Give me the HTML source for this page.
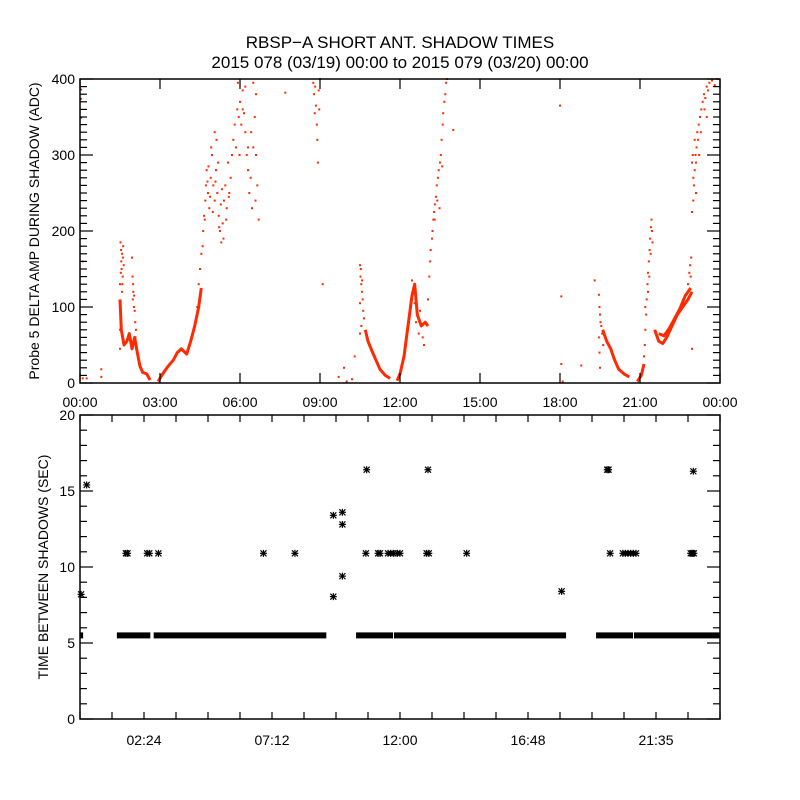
<!DOCTYPE html>
<html><head><meta charset="utf-8"><style>
html,body{margin:0;padding:0;background:#fff;}
svg{display:block;font-family:"Liberation Sans","DejaVu Sans",sans-serif;}
</style></head><body>
<svg id="chart" width="800" height="800" viewBox="0 0 800 800" xmlns="http://www.w3.org/2000/svg">
<defs><clipPath id="botClip"><rect x="80" y="415" width="640" height="304"/></clipPath></defs>
<rect width="800" height="800" fill="#fff"/>
<text x="400" y="48" font-size="17" text-anchor="middle">RBSP−A SHORT ANT. SHADOW TIMES</text>
<text x="400" y="68" font-size="17" text-anchor="middle">2015 078 (03/19) 00:00 to 2015 079 (03/20) 00:00</text>
<g id="topPanel"></g>
<g id="botPanel"></g>
<text transform="translate(39,231) rotate(-90)" font-size="14" text-anchor="middle">Probe 5 DELTA AMP DURING SHADOW (ADC)</text>
<text transform="translate(48,567) rotate(-90)" font-size="14" text-anchor="middle">TIME BETWEEN SHADOWS (SEC)</text>
</svg>
<script>
// ---------- top panel data (hour, ADC) ----------
const curveB = [[1.5,110],[1.55,70],[1.65,50],[1.76,55],[1.85,65],[1.95,45],[2.05,60],[2.15,40],[2.25,22],[2.35,14],[2.5,12],[2.63,4]];
const curveC = [[2.93,2],[3.1,12],[3.3,22],[3.5,30],[3.65,40],[3.8,45],[4.0,38],[4.15,55],[4.3,75],[4.45,100],[4.55,125]];
const curveE = [[10.7,70],[10.8,55],[10.95,42],[11.1,30],[11.25,18],[11.45,10],[11.63,6]];
const curveF = [[11.89,3],[12.0,12],[12.15,35],[12.3,75],[12.45,115],[12.55,130],[12.65,90],[12.8,75],[12.95,80],[13.05,75]];
const curveG = [[19.6,70],[19.75,55],[19.9,45],[20.05,30],[20.2,18],[20.4,12],[20.6,8]];
const curveH = [[20.9,2],[21.05,10],[21.15,25]];
const curveH2 = [[21.55,70],[21.7,55],[21.85,52],[22.0,60],[22.2,75],[22.4,90],[22.6,100],[22.8,110],[22.95,120]];
const curveH3 = [[21.7,65],[21.9,62],[22.1,72],[22.3,85],[22.5,98],[22.7,115],[22.9,125]];
const ampPoints = [
[1.52,185],[1.54,175],[1.55,160],[1.56,150],[1.58,170],[1.6,140],[1.62,180],[1.5,130],[1.64,155],[1.53,145],[1.57,120],[1.5,100],[1.5,70],[1.5,45],[1.59,130],[1.61,165],
[1.95,165],[1.97,140],[2.0,120],[1.98,110],[2.02,100],[2.05,95],[2.07,80],[2.1,70],[1.99,130],[2.03,115],[2.08,60],[2.12,50],
[4.6,180],[4.62,200],[4.65,220],[4.7,240],[4.72,260],[4.75,280],[4.8,250],[4.85,230],[4.9,270],[4.95,300],[5.0,260],[5.05,240],[5.1,280],[5.15,250],[5.2,220],[5.25,200],[5.3,185],[5.35,210],[5.4,240],[5.45,260],[5.5,230],[5.55,290],[5.6,250],[5.65,270],[4.68,215],[4.78,265],[4.88,245],[4.98,225],[5.08,265],[5.18,290],[5.28,235],[5.38,190],[5.48,215],[5.58,245],[5.12,320],[5.05,330],[4.92,310],[5.22,205],[5.32,255],[4.82,285],
[4.4,100],[4.5,150],[4.55,170],[4.45,130],
[5.7,300],[5.75,320],[5.8,340],[5.85,310],[5.9,360],[5.95,350],[6.0,370],[6.05,340],[6.1,360],[6.15,355],[6.2,330],[6.25,300],[6.3,280],[6.35,250],[6.4,270],[6.45,230],[6.5,310],[6.55,350],[6.6,380],[6.65,260],[6.7,215],[6.58,240],[6.2,390],[6.1,385],[5.92,395],[6.5,395],[6.42,330],[5.98,300],[6.3,310],[6.6,300],
[8.75,395],[8.78,380],[8.82,390],[8.85,365],[8.88,340],[8.9,320],[8.92,290],[8.95,385],[8.97,360],[9.0,400],[8.8,355],[7.7,382],[9.1,130],
[10.5,155],[10.52,140],[10.55,130],[10.57,120],[10.6,110],[10.62,95],[10.65,85],[10.53,150],[10.58,135],[10.5,105],[10.5,65],[10.55,75],
[0.1,6],[0.25,6],[0.8,18],[0.8,8],[0.04,386],[0.04,374],[0.04,349],[0.1,160],[9.7,8],[9.9,20],[10.0,2],[10.3,35],[10.2,5],
[13.05,110],[13.1,140],[13.13,160],[13.15,175],[13.2,190],[13.22,200],[13.25,215],[13.28,225],[13.31,235],[13.35,245],[13.38,260],[13.42,270],[13.45,280],[13.5,290],[13.53,300],[13.56,320],[13.6,340],[13.62,355],[13.66,370],[13.7,380],[13.73,395],[13.76,400],[13.3,215],[13.4,240],[13.48,230],[13.58,285],[14.0,333],[18.0,365],
[12.45,135],[12.5,120],[12.55,105],[12.6,80],[12.7,65],[12.85,60],[12.9,50],[12.75,95],
[18.05,114],[18.05,25],[18.1,2],[18.8,23],[19.3,135],
[19.46,116],[19.48,100],[19.5,90],[19.52,80],[19.55,75],[19.46,60],[19.48,40],[19.5,20],[19.58,65],[19.62,50],
[21.15,35],[21.18,50],[21.2,70],[21.23,90],[21.25,110],[21.28,130],[21.3,145],[21.33,160],[21.36,175],[21.38,190],[21.41,205],[21.43,215],[21.45,200],[21.47,185],[21.2,100],[21.3,120],[21.4,170],[21.35,140],
[22.88,155],[22.9,140],[22.85,145],[22.92,165],[22.8,130],[22.95,45],
[22.95,225],[23.0,240],[23.02,260],[23.05,280],[23.08,300],[23.1,290],[23.12,310],[23.15,330],[23.18,320],[23.2,340],[23.25,350],[23.3,360],[23.35,370],[23.4,380],[23.45,375],[23.5,390],[23.55,385],[23.6,395],[23.7,398],[23.8,392],[23.9,400],[23.0,270],[23.1,250],[22.98,300],[23.05,320],[23.22,300],[23.28,330],[23.42,360],[23.5,350],[22.95,290]
];
const topXTicks = ["00:00","03:00","06:00","09:00","12:00","15:00","18:00","21:00","00:00"];
const topYTicks = [0,100,200,300,400];
// ---------- bottom panel data ----------
const bandStarts = [0,1.42,2.8,10.39,11.81,19.39,20.81];
const bandEnds = [0.08,2.6,9.2,11.7,18.19,20.7,24];
const bandValue = 5.5;
const outHours = [0.04,0.25,1.72,1.78,2.52,2.6,2.94,6.88,8.06,9.5,9.5,9.84,9.84,9.84,10.75,10.72,11.18,11.25,11.55,11.65,11.75,11.9,12.0,13.0,13.08,13.05,14.5,18.06,19.77,19.82,19.88,20.36,20.45,20.55,20.65,20.75,20.85,22.9,22.96,23.02,23.0];
const outValues = [8.2,15.4,10.9,10.9,10.9,10.9,10.9,10.9,10.9,13.4,8.05,13.6,12.8,9.4,16.4,10.9,10.9,10.9,10.9,10.9,10.9,10.9,10.9,10.9,10.9,16.4,10.9,8.4,16.4,16.4,10.9,10.9,10.9,10.9,10.9,10.9,10.9,10.9,10.9,10.9,16.3];
const botXTicks = ["","02:24","07:12","12:00","16:48","21:35"];
const botYTicks = [0,5,10,15,20];

const NS="http://www.w3.org/2000/svg";
function mk(tag,attrs,parent){const e=document.createElementNS(NS,tag);for(const k in attrs)e.setAttribute(k,attrs[k]);parent.appendChild(e);return e;}
const L=80,R=720;
const T1=79,B1=383,T2=415,B2=719;
const x=h=>L+(h/24)*(R-L);
const y1=v=>B1-(v/400)*(B1-T1);
const y2=v=>B2-(v/20)*(B2-T2);
const RED="#ff2a00";
const gTop=document.getElementById('topPanel'), gBot=document.getElementById('botPanel');

[curveB,curveC,curveE,curveF,curveG,curveH,curveH2,curveH3].forEach(c=>{
  const p=mk('polyline',{points:c.map(d=>x(d[0]).toFixed(1)+','+y1(d[1]).toFixed(1)).join(' '),fill:'none',stroke:RED,'stroke-width':3,'stroke-linejoin':'round'},gTop);
  
  
});
ampPoints.forEach(d=>{
  const r=mk('rect',{x:(x(d[0])-1).toFixed(1),y:(y1(d[1])-1).toFixed(1),width:2,height:2,fill:RED},gTop);
  
  
});
const f1=mk('rect',{x:L,y:T1,width:R-L,height:B1-T1,fill:'none',stroke:'#000','stroke-width':1.5},gTop);


topXTicks.forEach((t,i)=>{
  const xx=x(i*3);
  mk('line',{x1:xx,x2:xx,y1:B1,y2:B1-10,stroke:'#000','stroke-width':1.2},gTop);
  mk('line',{x1:xx,x2:xx,y1:T1,y2:T1+10,stroke:'#000','stroke-width':1.2},gTop);
  const tx=mk('text',{x:xx,y:B1+24,'font-size':14,'text-anchor':'middle'},gTop);
  tx.textContent=t;
  
  
});
for(let v=0;v<=400;v+=10){
  const len=(v%100===0)?13:7;
  mk('line',{x1:L,x2:L+len,y1:y1(v),y2:y1(v),stroke:'#000','stroke-width':1.2},gTop);
  mk('line',{x1:R,x2:R-len,y1:y1(v),y2:y1(v),stroke:'#000','stroke-width':1.2},gTop);
}
topYTicks.forEach(v=>{
  const tx=mk('text',{x:L-5,y:y1(v)+5,'font-size':14,'text-anchor':'end'},gTop);
  tx.textContent=v;
  
  
});

const gBands=mk('g',{'clip-path':'url(#botClip)'},gBot);


bandStarts.forEach((s,i)=>{
  const r=mk('rect',{x:x(s)-1,y:y2(bandValue)-3,width:x(bandEnds[i])-x(s)+2,height:6,fill:'#000'},gBands);
  
  
});
function star(cx,cy){
  const g=mk('g',{stroke:'#000','stroke-width':1.2},gBot);
  
  
  mk('line',{x1:cx-3.5,x2:cx+3.5,y1:cy,y2:cy},g);
  mk('line',{x1:cx,x2:cx,y1:cy-3.5,y2:cy+3.5},g);
  mk('line',{x1:cx-3,x2:cx+3,y1:cy-3,y2:cy+3},g);
  mk('line',{x1:cx-3,x2:cx+3,y1:cy+3,y2:cy-3},g);
}
outHours.forEach((h,i)=>star(x(h),y2(outValues[i])));
const f2=mk('rect',{x:L,y:T2,width:R-L,height:B2-T2,fill:'none',stroke:'#000','stroke-width':1.5},gBot);


for(let k=0;k<=20;k++){
  const xx=x(k*1.2);
  mk('line',{x1:xx,x2:xx,y1:B2,y2:B2-7,stroke:'#000','stroke-width':1.2},gBot);
  mk('line',{x1:xx,x2:xx,y1:T2,y2:T2+7,stroke:'#000','stroke-width':1.2},gBot);
}
botXTicks.forEach((t,i)=>{
  if(!t) return;
  const tx=mk('text',{x:x(i*4.8-2.4),y:B2+26,'font-size':14,'text-anchor':'middle'},gBot);
  tx.textContent=t;
  
  
});
for(let v=0;v<=20;v++){
  const len=(v%5===0)?13:7;
  mk('line',{x1:L,x2:L+len,y1:y2(v),y2:y2(v),stroke:'#000','stroke-width':1.2},gBot);
  mk('line',{x1:R,x2:R-len,y1:y2(v),y2:y2(v),stroke:'#000','stroke-width':1.2},gBot);
}
botYTicks.forEach(v=>{
  const tx=mk('text',{x:L-5,y:y2(v)+5,'font-size':14,'text-anchor':'end'},gBot);
  tx.textContent=v;
  
  
});
</script>
</body></html>
